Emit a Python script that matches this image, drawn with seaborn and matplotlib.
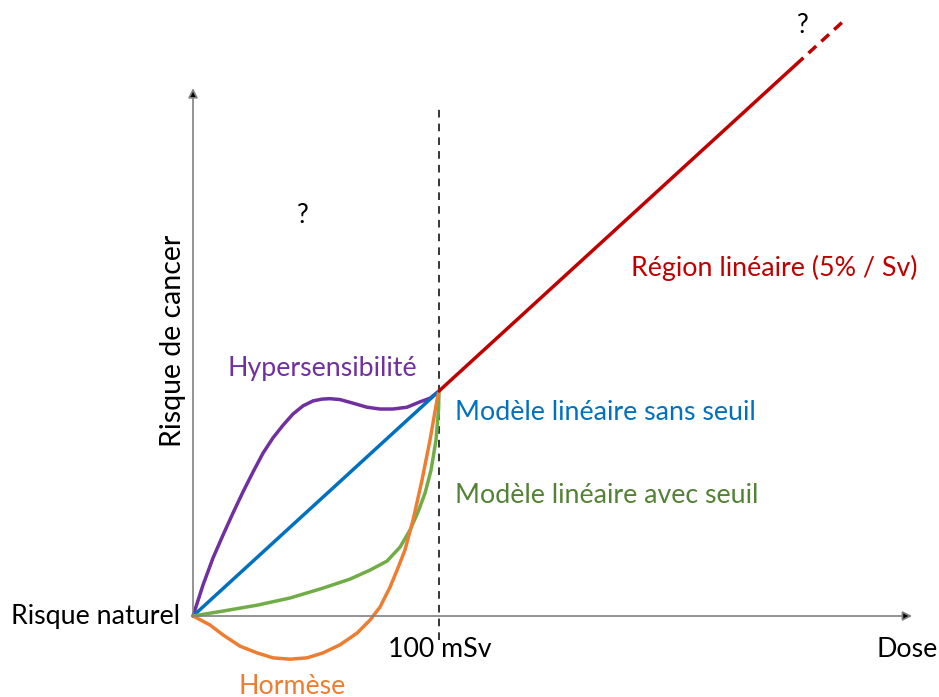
import matplotlib
matplotlib.use('Agg')
import matplotlib.pyplot as plt
import seaborn as sns

# Dose in mSv, risk in %
hyperDose = [0, 4.07, 8.13, 12.2, 16.26, 20.33, 24.39, 28.46, 32.52, 36.59, 40.65, 44.72,
             48.78, 52.44, 55.69, 59.76, 65.04, 70.73, 76.02, 81.3, 86.99, 92.28, 96.34, 100]
hyperRisk = [0, 0.069, 0.129, 0.180, 0.229, 0.276, 0.320, 0.362, 0.396, 0.424, 0.449, 0.467,
             0.478, 0.482, 0.483, 0.481, 0.473, 0.464, 0.460, 0.460, 0.464, 0.476, 0.484, 0.5]

lnsDose = [0, 100]
lnsRisk = [0, 0.5]

seuilDose = [0, 12.2, 26.02, 39.43, 52.85, 63.82, 71.95, 78.86, 84.15, 88.21, 91.46, 94.31,
             96.75, 98.78, 99.8, 100]
seuilRisk = [0, 0.011, 0.024, 0.040, 0.062, 0.082, 0.102, 0.122, 0.153, 0.191, 0.231, 0.273,
             0.324, 0.391, 0.458, 0.5]

hormeseDose = [0, 6.91, 12.2, 19.11, 26.02, 32.52, 39.43, 46.34, 52.85, 59.76, 66.67, 71.95,
               76.02, 80.08, 83.33, 86.18, 89.43, 93.09, 96.34, 99.19, 100]
hormeseRisk = [0, -0.020, -0.042, -0.067, -0.082, -0.093, -0.096, -0.093, -0.082, -0.064, -0.038, -0.009,
               0.020, 0.064, 0.107, 0.147, 0.213, 0.302, 0.391, 0.480, 0.5]

linDose = [100, 245]
linRisk = [0.5, 1.225]
unknownDose = [245, 265]
unknownRisk = [1.225, 1.325]

sns.set_style('white')
plt.rcParams['font.family'] = ['Lato', 'DejaVu Sans']

fig = plt.figure(figsize=(9.39, 6.97), dpi=100)
ax = fig.add_axes([0, 0, 1, 1])
ax.set_xlim(-78.46, 303.25)
ax.set_ylim(-0.18, 1.369)
ax.axis('off')

# Axes with arrows
arrow = dict(arrowstyle='-|>', lw=1.2, mutation_scale=14, shrinkA=0, shrinkB=0,
             fc='black', ec='#808080')
ax.annotate('', xy=(0, 1.173), xytext=(0, 0), arrowprops=arrow)
ax.annotate('', xy=(292.3, 0), xytext=(0, 0), arrowprops=arrow)

# 100 mSv threshold
ax.plot([100, 100], [-0.053, 1.136], color='black', lw=1.1, linestyle=(0, (5, 4)))

lw = 2.5
style = dict(lw=lw, sort=False, estimator=None, ax=ax, solid_capstyle='round', solid_joinstyle='round')
sns.lineplot(x=hyperDose, y=hyperRisk, color='#7030A0', **style)
sns.lineplot(x=lnsDose, y=lnsRisk, color='#0070C0', **style)
sns.lineplot(x=seuilDose, y=seuilRisk, color='#70AD47', **style)
sns.lineplot(x=hormeseDose, y=hormeseRisk, color='#ED7D31', **style)
sns.lineplot(x=linDose, y=linRisk, color='#C00000', lw=lw, sort=False, estimator=None, ax=ax)
ax.plot(unknownDose, unknownRisk, color='#C00000', lw=lw, linestyle=(0, (3, 2)))

# Labels
fs = 19.3
ax.text(-5.3, 0, 'Risque naturel', fontsize=fs, ha='right', va='center', color='black')
ax.text(100.4, -0.075, '100 mSv', fontsize=fs, ha='center', va='center', color='black')
ax.text(290.2, -0.075, 'Dose', fontsize=fs, ha='center', va='center', color='black')
ax.text(40.2, -0.156, 'Hormèse', fontsize=fs, ha='center', va='center', color='#ED7D31')
ax.text(52.4, 0.551, 'Hypersensibilité', fontsize=fs, ha='center', va='center', color='#7030A0')
ax.text(106.5, 0.453, 'Modèle linéaire sans seuil', fontsize=fs, ha='left', va='center', color='#0070C0')
ax.text(106.5, 0.267, 'Modèle linéaire avec seuil', fontsize=fs, ha='left', va='center', color='#548235')
ax.text(178.0, 0.773, 'Région linéaire (5% / Sv)', fontsize=fs, ha='left', va='center', color='#C00000')
ax.text(44.7, 0.891, '?', fontsize=19, ha='center', va='center', color='black')
ax.text(247.9, 1.313, '?', fontsize=19, ha='center', va='center', color='black')
ax.text(-8.1, 0.611, 'Risque de cancer', fontsize=20.5, ha='center', va='center', rotation=90, color='black')

fig.savefig('out.png', dpi=100)
